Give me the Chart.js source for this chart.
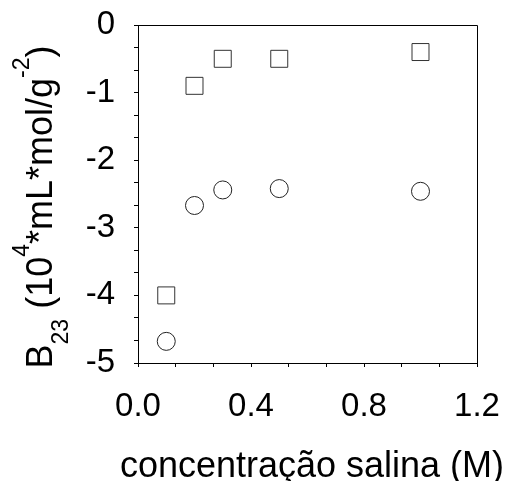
<!DOCTYPE html>
<html>
<head>
<meta charset="utf-8">
<script src="https://cdn.jsdelivr.net/npm/chart.js@4.4.1/dist/chart.umd.min.js"></script>
<style>
  html, body { margin: 0; padding: 0; background: #fff; }
  #wrap { width: 513px; height: 481px; }
</style>
</head>
<body>
<div id="wrap"><canvas id="graf" width="513" height="481"></canvas></div>
<script>
// concentração salina (M)
const concentracoes = [0.1, 0.2, 0.3, 0.5, 1.0];
// quadrados
const serieQuadrados = [-4.0, -0.9, -0.5, -0.5, -0.4];
// círculos
const serieCirculos = [-4.68, -2.67, -2.44, -2.42, -2.46];

const xTickLabels = ["0.0", "0.4", "0.8", "1.2"];
const yTickLabels = ["0", "-1", "-2", "-3", "-4", "-5"];

const fonte = "'Liberation Sans', Arial, sans-serif";

function pontos(valores) {
    return concentracoes.map((x, i) => ({ x: x, y: valores[i] }));
}

// moldura (linhas de cima e da direita)
const moldura = {
    id: "moldura",
    afterDraw(chart) {
        const { ctx, chartArea: a } = chart;
        ctx.save();
        ctx.strokeStyle = "#000";
        ctx.lineWidth = 1;
        ctx.beginPath();
        ctx.moveTo(a.left, a.top + 0.5);
        ctx.lineTo(a.right + 0.5, a.top + 0.5);
        ctx.lineTo(a.right + 0.5, a.bottom);
        ctx.stroke();
        ctx.restore();
    }
};

// títulos dos eixos (o do y com subscrito e sobrescrito)
const titulos = {
    id: "titulos",
    afterDraw(chart) {
        const ctx = chart.ctx;
        ctx.save();
        ctx.fillStyle = "#000";
        ctx.textBaseline = "alphabetic";

        // eixo x: desenhado aqui para não ser comprimido pelo maxWidth
        ctx.font = "36px " + fonte;
        ctx.textAlign = "center";
        ctx.fillText("concentração salina (M)", 312, 477);

        const partes = [
            { t: "B", k: "n" },
            { t: "23", k: "sub" },
            { t: " (10", k: "n" },
            { t: "4", k: "sup" },
            { t: "*mL*mol/g", k: "n" },
            { t: "-2", k: "sup" },
            { t: ")", k: "n" }
        ];
        const fn = "36px " + fonte;
        const fs = "23px " + fonte;
        ctx.textAlign = "left";
        let total = 0;
        partes.forEach(p => {
            ctx.font = p.k === "n" ? fn : fs;
            p.w = ctx.measureText(p.t).width;
            total += p.w;
        });
        const centro = 207;
        ctx.translate(52, centro + total / 2);
        ctx.rotate(-Math.PI / 2);
        let u = 0;
        partes.forEach(p => {
            ctx.font = p.k === "n" ? fn : fs;
            const v = p.k === "sub" ? 16 : p.k === "sup" ? -23 : 0;
            ctx.fillText(p.t, u, v);
            u += p.w;
        });
        ctx.restore();
    }
};

function semPadding(s) {
    s.paddingTop = 0;
    s.paddingBottom = 0;
    s.paddingLeft = 0;
    s.paddingRight = 0;
}

new Chart(document.getElementById("graf"), {
    type: "scatter",
    data: {
        datasets: [
            {
                label: "quadrados",
                data: pontos(serieQuadrados),
                pointStyle: "rect",
                pointRadius: 12,
                pointHoverRadius: 12,
                borderColor: "#333",
                backgroundColor: "rgba(0,0,0,0)",
                borderWidth: 1
            },
            {
                label: "círculos",
                data: pontos(serieCirculos),
                pointStyle: "circle",
                pointRadius: 9,
                pointHoverRadius: 9,
                borderColor: "#222",
                backgroundColor: "rgba(0,0,0,0)",
                borderWidth: 1
            }
        ]
    },
    options: {
        responsive: false,
        animation: false,
        layout: { padding: { top: 25, right: 36, left: 0, bottom: 0 } },
        plugins: {
            legend: { display: false },
            tooltip: { enabled: false }
        },
        scales: {
            x: {
                type: "linear",
                min: 0,
                max: 1.2,
                afterBuildTicks(s) {
                    s.ticks = [];
                    for (let i = 0; i <= 9; i++) s.ticks.push({ value: i * 0.4 / 3 });
                },
                afterFit(s) { s.height = 118; semPadding(s); },
                border: { display: true, color: "#000", width: 1 },
                grid: { drawOnChartArea: false, drawTicks: true, tickLength: 4, tickColor: "#000" },
                ticks: {
                    autoSkip: false,
                    maxRotation: 0,
                    padding: 20,
                    color: "#000",
                    font: { family: fonte, size: 33 },
                    callback: (v, i) => (i % 3 === 0 ? xTickLabels[i / 3] : "")
                }
            },
            y: {
                type: "linear",
                min: -5,
                max: 0,
                afterBuildTicks(s) {
                    s.ticks = [];
                    for (let i = 0; i <= 15; i++) s.ticks.push({ value: -5 + i / 3 });
                },
                afterFit(s) { s.width = 138; semPadding(s); },
                border: { display: true, color: "#000", width: 1 },
                grid: { drawOnChartArea: false, drawTicks: true, tickLength: 4, tickColor: "#000" },
                ticks: {
                    autoSkip: false,
                    padding: 19,
                    color: "#000",
                    font: { family: fonte, size: 33 },
                    callback: (v, i) => (i % 3 === 0 ? yTickLabels[5 - i / 3] : "")
                }
            }
        }
    },
    plugins: [moldura, titulos]
});
</script>
</body>
</html>
